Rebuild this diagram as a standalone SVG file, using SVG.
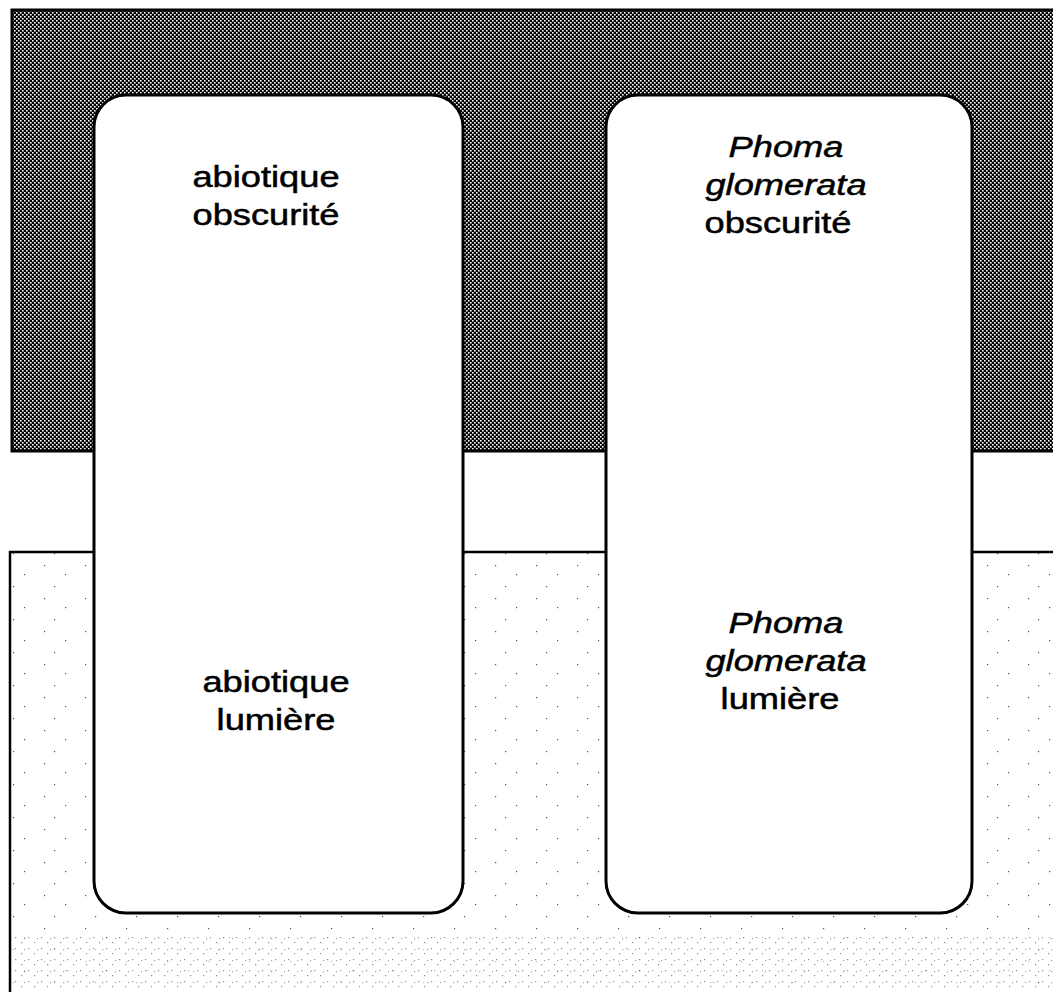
<svg xmlns="http://www.w3.org/2000/svg" width="1053" height="992" viewBox="0 0 1053 992">
  <style>
    .box { fill: #ffffff; stroke: #000000; stroke-width: 3; }
    .lbl { font-family: "Liberation Sans", Arial, Helvetica, sans-serif; font-size: 29px; fill: #000000; stroke: #000000; stroke-width: 0.5; text-anchor: middle; }
    .it { font-style: italic; }
  </style>
  <defs>
    <!-- dense halftone for the dark band -->
    <pattern id="darkDots" width="4" height="4" patternUnits="userSpaceOnUse">
      <rect width="4" height="4" fill="#000000"/>
      <rect x="0" y="0" width="1.6" height="1.6" fill="#ffffff"/>
      <rect x="2" y="2" width="1.6" height="1.6" fill="#ffffff"/>
    </pattern>
    <!-- sparse speckle for the light area -->
    <pattern id="lightDots" width="41" height="33" patternUnits="userSpaceOnUse">
      <rect width="41" height="33" fill="#ffffff"/>
      <rect x="3" y="4" width="1.2" height="1.2" fill="#555"/>
      <rect x="24" y="13" width="1.2" height="1.2" fill="#555"/>
      <rect x="13" y="25" width="1.2" height="1.2" fill="#555"/>
    </pattern>
    <pattern id="lightDotsDense" width="13" height="11" patternUnits="userSpaceOnUse">
      <rect width="13" height="11" fill="#ffffff"/>
      <rect x="2" y="2" width="1.2" height="1.2" fill="#444"/>
      <rect x="8" y="7" width="1.2" height="1.2" fill="#444"/>
      <rect x="11" y="3" width="1.2" height="1.2" fill="#666"/>
    </pattern>
  </defs>

  <rect width="1053" height="992" fill="#ffffff"/>

  <!-- background zones -->
  <g id="zones">
    <rect x="12" y="10" width="1050" height="441" fill="url(#darkDots)" stroke="#000" stroke-width="3"/>
    <rect x="10" y="552" width="1050" height="450" fill="url(#lightDots)" stroke="#000" stroke-width="2.5"/>
    <rect x="12" y="935" width="1041" height="57" fill="url(#lightDotsDense)" opacity="0.6"/>
  </g>

  <g id="node-abiotique">
    <rect class="box" x="94" y="95" width="369" height="818" rx="32" ry="32"/>
    <g transform="translate(266,0) scale(1.25,1)">
      <text class="lbl" x="0" y="187">abiotique</text>
      <text class="lbl" x="0" y="225">obscurité</text>
    </g>
    <g transform="translate(276,0) scale(1.25,1)">
      <text class="lbl" x="0" y="692">abiotique</text>
      <text class="lbl" x="0" y="730">lumière</text>
    </g>
  </g>

  <g id="node-phoma">
    <rect class="box" x="606" y="95" width="366" height="818" rx="32" ry="32"/>
    <g transform="translate(786,0) scale(1.25,1)">
      <text class="lbl it" x="0" y="157">Phoma</text>
      <text class="lbl it" x="0" y="195">glomerata</text>
    </g>
    <g transform="translate(778,0) scale(1.25,1)">
      <text class="lbl" x="0" y="233">obscurité</text>
    </g>
    <g transform="translate(786,0) scale(1.25,1)">
      <text class="lbl it" x="0" y="633">Phoma</text>
      <text class="lbl it" x="0" y="671">glomerata</text>
    </g>
    <g transform="translate(780,0) scale(1.25,1)">
      <text class="lbl" x="0" y="709">lumière</text>
    </g>
  </g>

  <g id="connectors"></g>
</svg>
